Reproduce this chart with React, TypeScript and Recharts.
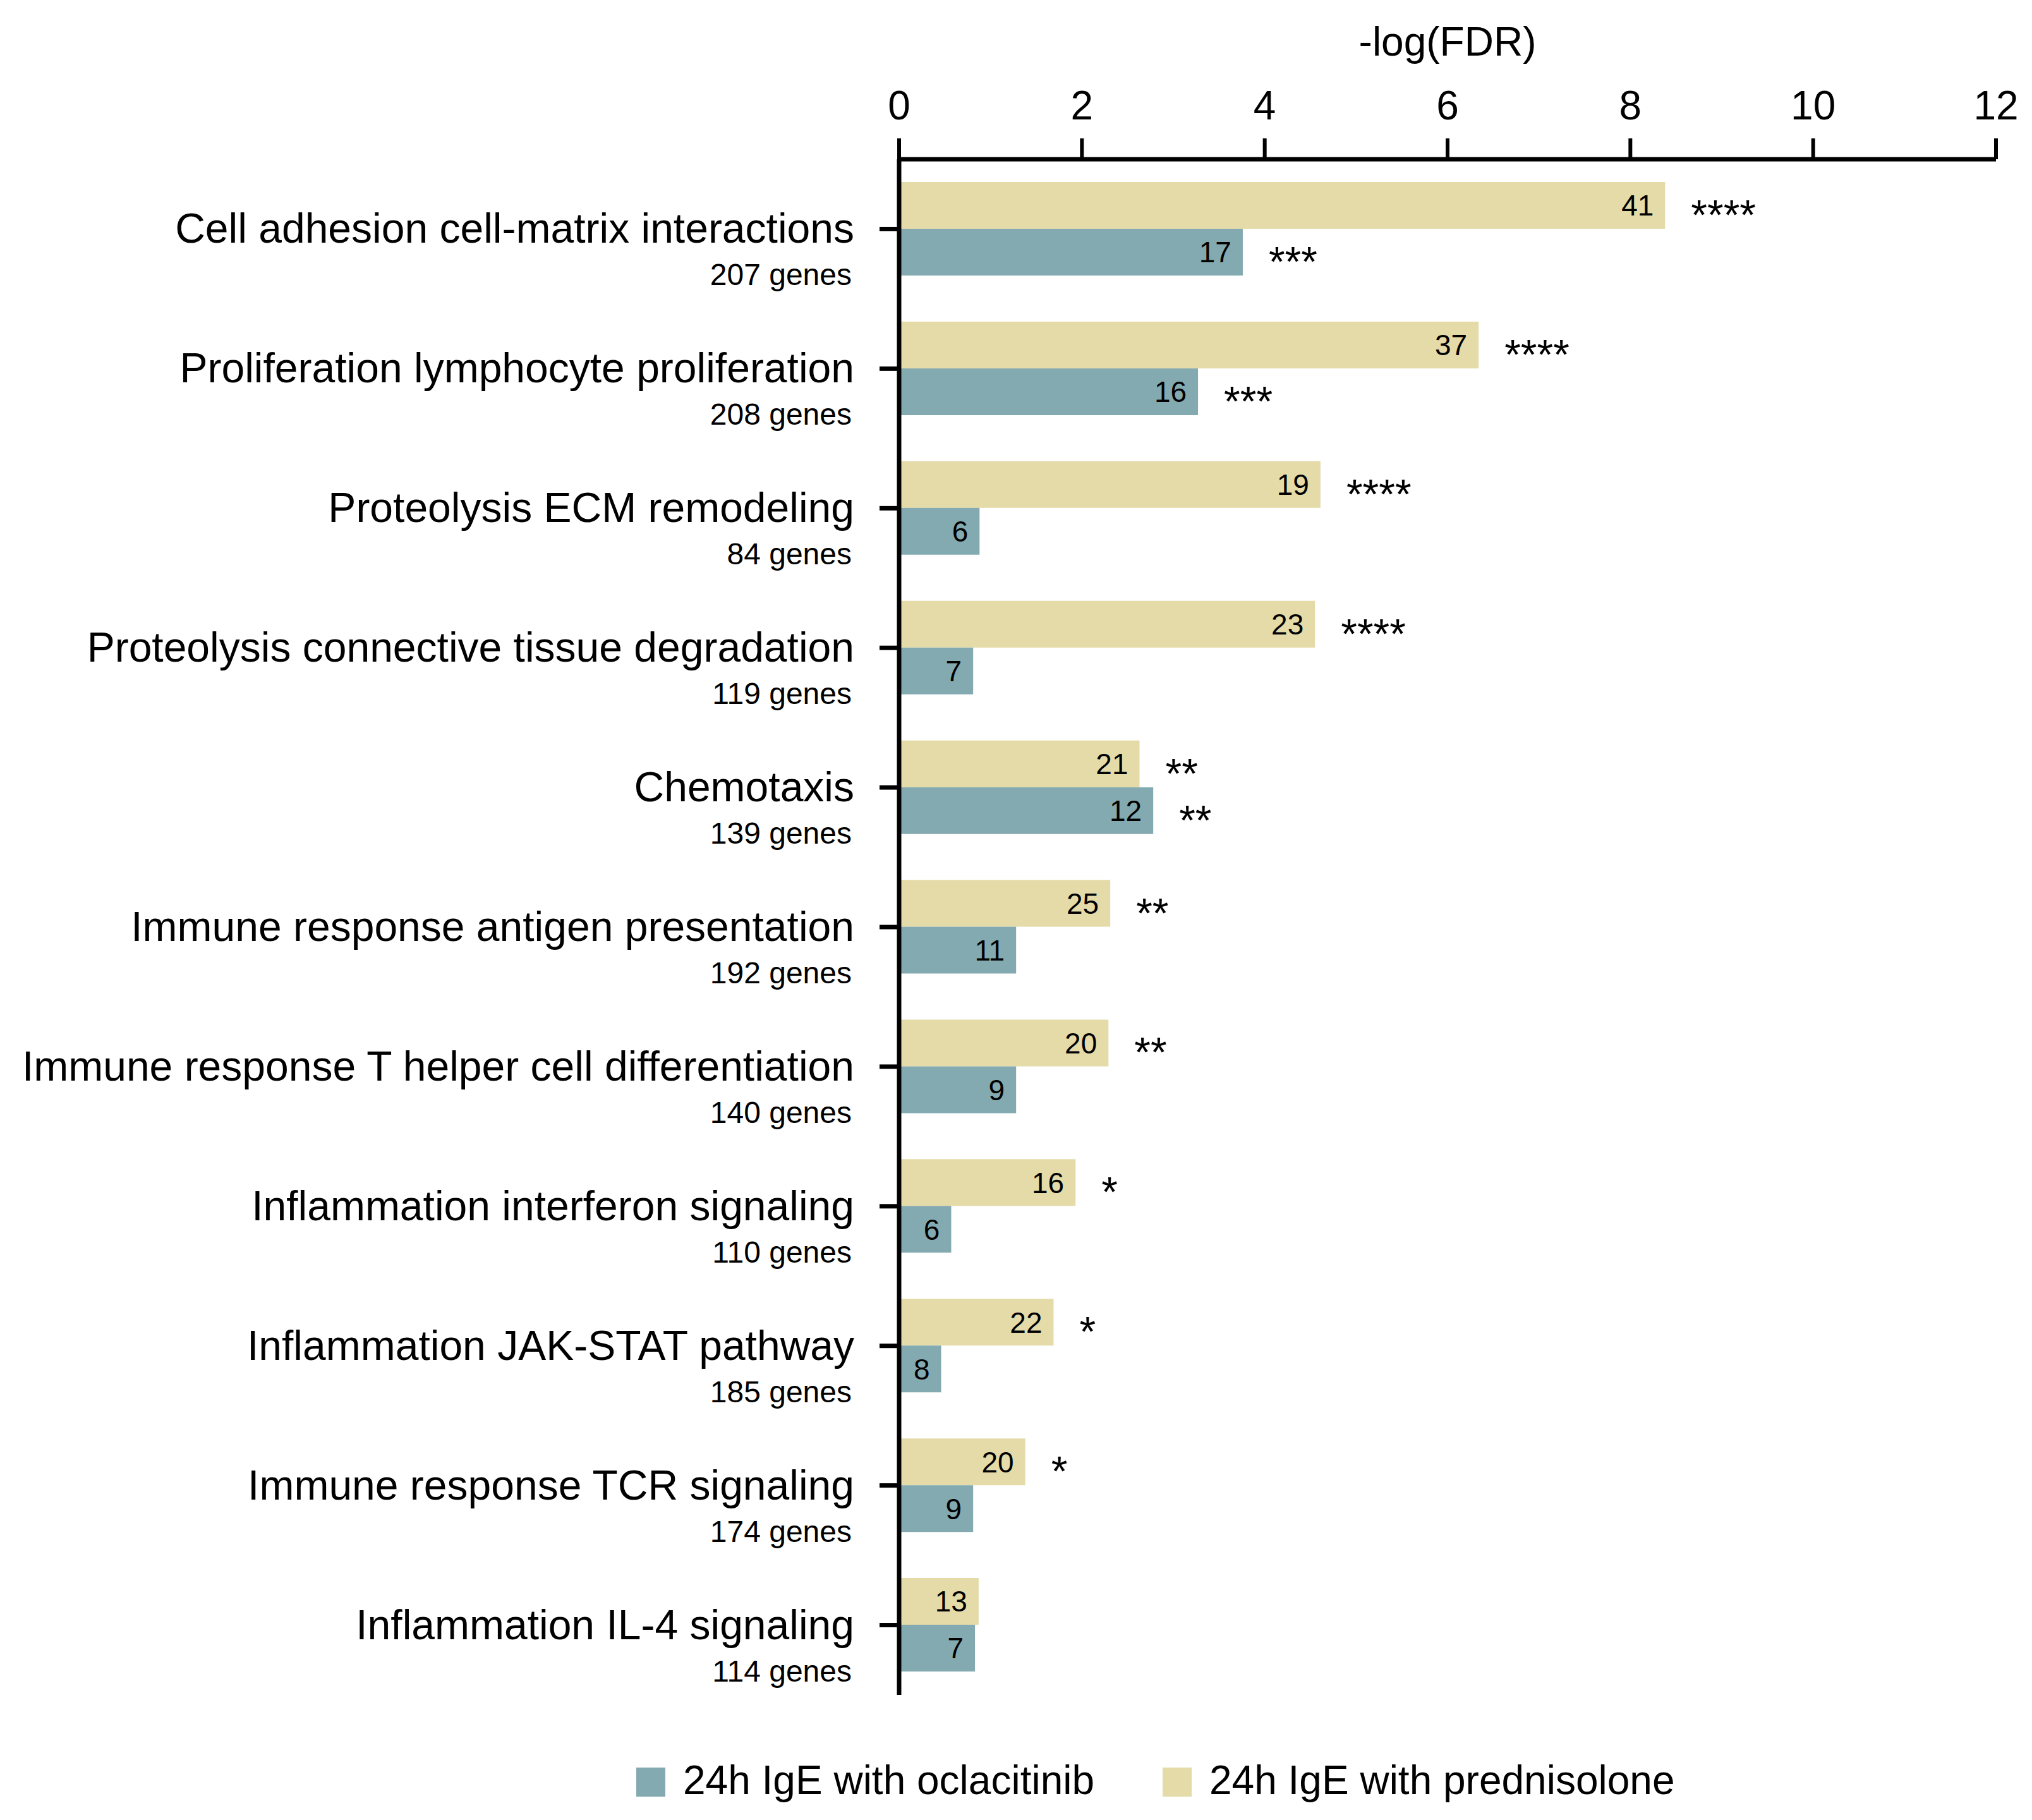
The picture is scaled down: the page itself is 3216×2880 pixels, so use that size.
import React from 'react';
import { BarChart, Bar, XAxis, YAxis, LabelList, Legend } from 'recharts';

const categories = [
  'Cell adhesion cell-matrix interactions',
  'Proliferation lymphocyte proliferation',
  'Proteolysis ECM remodeling',
  'Proteolysis connective tissue degradation',
  'Chemotaxis',
  'Immune response antigen presentation',
  'Immune response T helper cell differentiation',
  'Inflammation interferon signaling',
  'Inflammation JAK-STAT pathway',
  'Immune response TCR signaling',
  'Inflammation IL-4 signaling',
];
const geneCounts = [207, 208, 84, 119, 139, 192, 140, 110, 185, 174, 114];
const prednisoloneValues = [8.38, 6.34, 4.61, 4.55, 2.63, 2.31, 2.29, 1.93, 1.69, 1.38, 0.87];
const oclacitinibValues = [3.76, 3.27, 0.88, 0.81, 2.78, 1.28, 1.28, 0.57, 0.46, 0.81, 0.83];
const prednisoloneGenes = [41, 37, 19, 23, 21, 25, 20, 16, 22, 20, 13];
const oclacitinibGenes = [17, 16, 6, 7, 12, 11, 9, 6, 8, 9, 7];
const prednisoloneStars = ['****', '****', '****', '****', '**', '**', '**', '*', '*', '*', ''];
const oclacitinibStars = ['***', '***', '', '', '**', '', '', '', '', '', ''];
const xTicks = [0, 2, 4, 6, 8, 10, 12];

const seriesOcla = { key: 'ocla', name: '24h IgE with oclacitinib', color: '#83AAB0' };
const seriesPred = { key: 'pred', name: '24h IgE with prednisolone', color: '#E4DBA9' };

const data = categories.map((name, i) => ({
  name,
  genes: geneCounts[i],
  pred: prednisoloneValues[i],
  ocla: oclacitinibValues[i],
  predGenes: prednisoloneGenes[i],
  oclaGenes: oclacitinibGenes[i],
  predStars: prednisoloneStars[i],
  oclaStars: oclacitinibStars[i],
}));

const FONT = '"Liberation Sans", Arial, Helvetica, sans-serif';

const CategoryTick = (props: any) => {
  const { x, y, payload } = props;
  const idx = categories.indexOf(payload.value);
  return (
    <g>
      <text x={x} y={y + 22} textAnchor="end" fontSize={66} fill="#000" fontFamily={FONT}>
        {payload.value}
      </text>
      <text x={x - 4} y={y + 89} textAnchor="end" fontSize={48} fill="#000" fontFamily={FONT}>
        {`${geneCounts[idx]} genes`}
      </text>
    </g>
  );
};

const StarLabel = (props: any) => {
  const { x, y, width, height, value } = props;
  if (!value) return null;
  const cx = Number(x) + Number(width) + 41;
  const cy = Number(y) + Number(height) / 2 + 38;
  return (
    <text x={cx} y={cy} fontSize={66} fill="#000" fontFamily={FONT}>
      {value}
    </text>
  );
};

const LegendContent = () => {
  const items = [seriesOcla, seriesPred];
  const xs = [1007, 1840];
  return (
    <svg width={3216} height={100} style={{ display: 'block' }}>
      {items.map((s, i) => (
        <g key={s.key}>
          <rect x={xs[i]} y={27} width={46} height={46} fill={s.color} />
          <text x={xs[i] + 74} y={69} fontSize={64} fill="#000" fontFamily={FONT}>
            {s.name}
          </text>
        </g>
      ))}
    </svg>
  );
};

export default function App() {
  return (
    <div style={{ position: 'absolute', left: 0, top: 0, width: 3216, height: 2880, background: '#fff' }}>
      <BarChart
        width={3216}
        height={2880}
        data={data}
        layout="vertical"
        margin={{ top: 0, right: 57, bottom: 198, left: 0 }}
        barGap={0}
        barSize={74}
        style={{ fontFamily: FONT }}
      >
        <XAxis
          type="number"
          orientation="top"
          domain={[0, 12]}
          ticks={xTicks}
          interval={0}
          height={252}
          tickSize={33}
          tickMargin={30}
          axisLine={{ stroke: '#000', strokeWidth: 7 }}
          tickLine={{ stroke: '#000', strokeWidth: 6 }}
          tick={{ fontSize: 64, fill: '#000', fontFamily: FONT }}
          label={{ value: '-log(FDR)', position: 'insideTop', offset: 43, fontSize: 64, fill: '#000', fontFamily: FONT }}
        />
        <YAxis
          type="category"
          dataKey="name"
          width={1423}
          interval={0}
          tickSize={31}
          tickMargin={40}
          axisLine={{ stroke: '#000', strokeWidth: 7 }}
          tickLine={{ stroke: '#000', strokeWidth: 7 }}
          tick={<CategoryTick />}
        />
        <Legend
          verticalAlign="middle"
          align="center"
          layout="horizontal"
          content={<LegendContent />}
          wrapperStyle={{ top: 2770, left: 0, width: 3216, height: 100 }}
        />
        <Bar dataKey={seriesPred.key} name={seriesPred.name} fill={seriesPred.color} isAnimationActive={false}>
          <LabelList dataKey="predGenes" position="insideRight" offset={18} fontSize={46} fill="#000" fontFamily={FONT} />
          <LabelList dataKey="predStars" content={<StarLabel />} />
        </Bar>
        <Bar dataKey={seriesOcla.key} name={seriesOcla.name} fill={seriesOcla.color} isAnimationActive={false}>
          <LabelList dataKey="oclaGenes" position="insideRight" offset={18} fontSize={46} fill="#000" fontFamily={FONT} />
          <LabelList dataKey="oclaStars" content={<StarLabel />} />
        </Bar>
      </BarChart>
    </div>
  );
}
